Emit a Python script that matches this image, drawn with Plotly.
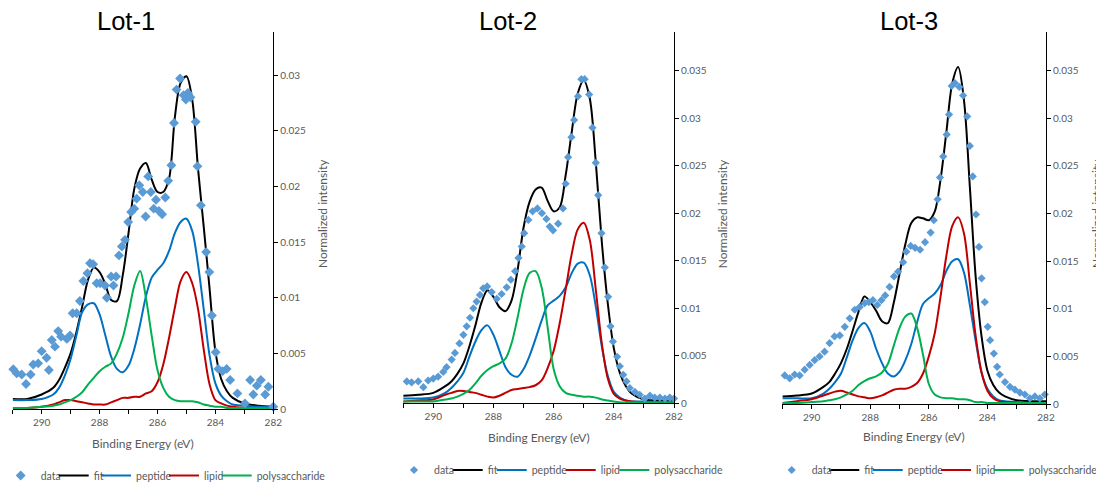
import plotly.graph_objects as go

# ---------------- data ----------------
lots = ["Lot-1", "Lot-2", "Lot-3"]
component_names = ["fit", "peptide", "lipid", "polysaccharide"]
component_colors = ["#000000", "#0070C0", "#C00000", "#00B050"]

energy_grid = [291.0, 290.5, 290.0, 289.6, 289.4, 289.2, 289.0, 288.8, 288.6, 288.4,
               288.2, 288.0, 287.8, 287.6, 287.4, 287.2, 287.0, 286.8, 286.6, 286.4,
               286.2, 286.0, 285.8, 285.6, 285.4, 285.2, 285.0, 284.8, 284.6, 284.4,
               284.2, 284.0, 283.8, 283.6, 283.4, 283.0, 282.5, 282.0]

# Lot-1
lot1_data_x = [290.98, 290.86, 290.69, 290.54, 290.38, 290.29, 290.12, 290.0, 289.83, 289.75,
               289.65, 289.54, 289.43, 289.33, 289.13, 289.02, 288.93, 288.79, 288.68, 288.56,
               288.42, 288.33, 288.22, 288.10, 287.98, 287.81, 287.75, 287.60, 287.52, 287.43,
               287.33, 287.23, 287.12, 287.01, 286.91, 286.80, 286.72, 286.63, 286.51, 286.41,
               286.32, 286.23, 286.13, 286.05, 285.95, 285.84, 285.73, 285.63, 285.52, 285.43,
               285.34, 285.22, 285.10, 285.02, 284.95, 284.86, 284.68, 284.62, 284.50, 284.32,
               284.21, 284.12, 283.99, 283.90, 283.75, 283.61, 283.49, 283.24, 282.98, 282.80,
               282.69, 282.57, 282.43, 282.28, 282.17, 282.0]
lot1_data_y = [0.00357, 0.0032, 0.0031, 0.00225, 0.0031, 0.0040, 0.0041, 0.0052, 0.0046, 0.0035,
               0.0062, 0.0056, 0.0070, 0.0065, 0.0063, 0.0066, 0.0086, 0.0086, 0.0097, 0.0115,
               0.0122, 0.0131, 0.0130, 0.0113, 0.0113, 0.0111, 0.0100, 0.0119, 0.0111, 0.0119,
               0.0138, 0.0146, 0.0152, 0.0168, 0.0177, 0.0180, 0.0189, 0.0201, 0.0195, 0.0173,
               0.0209, 0.0195, 0.0180, 0.0188, 0.0178, 0.0175, 0.0190, 0.0205, 0.0219, 0.0257,
               0.0287, 0.0297, 0.0282, 0.0278, 0.0284, 0.0280, 0.0258, 0.0218, 0.0183, 0.0141,
               0.0123, 0.0084, 0.0051, 0.0036, 0.0034, 0.0036, 0.0026, 0.0014, 0.0005, 0.0026,
               0.0013, 0.0021, 0.0026, 0.0013, 0.0020, 0.0002]
lot1_fit = [0.0009, 0.0009, 0.0013, 0.0019, 0.0026, 0.0037, 0.0050, 0.0069, 0.0092, 0.0116,
            0.0127, 0.0123, 0.0112, 0.0098, 0.0097, 0.0120, 0.0158, 0.0198, 0.0216, 0.0221,
            0.0206, 0.0195, 0.0195, 0.0207, 0.0262, 0.0293, 0.0299, 0.0278, 0.0216, 0.0163,
            0.0108, 0.0052, 0.0027, 0.0016, 0.0010, 0.0005, 0.0003, 0.0002]
lot1_peptide = [0.0008, 0.0008, 0.0009, 0.0013, 0.0019, 0.0030, 0.0045, 0.0066, 0.0087, 0.0094,
                0.0095, 0.0085, 0.0066, 0.0047, 0.0036, 0.0033, 0.0039, 0.0054, 0.0076, 0.0101,
                0.0118, 0.0125, 0.0131, 0.0142, 0.0158, 0.0168, 0.0171, 0.0160, 0.0130, 0.0089,
                0.0048, 0.0023, 0.0012, 0.0007, 0.0004, 0.0003, 0.0002, 0.0002]
lot1_lipid = [0.0001, 0.0001, 0.0002, 0.0004, 0.0006, 0.0008, 0.0008, 0.0007, 0.0006, 0.0005,
              0.0004, 0.0004, 0.0004, 0.0006, 0.0008, 0.0010, 0.0010, 0.0011, 0.0011, 0.0014,
              0.0016, 0.0024, 0.0040, 0.0064, 0.0091, 0.0115, 0.0123, 0.0113, 0.0090, 0.0053,
              0.0022, 0.0008, 0.0005, 0.0003, 0.0002, 0.0001, 0.0001, 0.0001]
lot1_poly = [0.0001, 0.0001, 0.0002, 0.0003, 0.0004, 0.0006, 0.0008, 0.0011, 0.0015, 0.0022,
             0.0028, 0.0034, 0.0038, 0.0041, 0.0050, 0.0064, 0.0086, 0.0111, 0.0124, 0.0100,
             0.0066, 0.0035, 0.0019, 0.0011, 0.0008, 0.0007, 0.0007, 0.0007, 0.0006, 0.0004,
             0.0003, 0.0002, 0.0002, 0.0001, 0.0001, 0.0001, 0.0001, 0.0001]

# Lot-2
lot2_data_x = [290.88, 290.72, 290.50, 290.33, 290.17, 290.0, 289.84, 289.67, 289.56, 289.39,
               289.28, 289.13, 289.0, 288.89, 288.78, 288.67, 288.56, 288.45, 288.34, 288.21,
               288.06, 287.89, 287.73, 287.56, 287.42, 287.28, 287.17, 287.06, 286.98, 286.84,
               286.70, 286.54, 286.39, 286.24, 286.13, 286.02, 285.85, 285.69, 285.60, 285.52,
               285.41, 285.32, 285.19, 285.08, 284.97, 284.82, 284.71, 284.60, 284.52, 284.41,
               284.30, 284.19, 284.11, 284.03, 283.89, 283.80, 283.69, 283.58, 283.47, 283.30,
               283.14, 282.97, 282.80, 282.64, 282.47, 282.30, 282.14, 282.0]
lot2_data_y = [0.0023, 0.0022, 0.0023, 0.0017, 0.0024, 0.0026, 0.0028, 0.0033, 0.0038, 0.0046,
               0.0053, 0.0063, 0.0072, 0.0081, 0.0090, 0.0100, 0.0107, 0.0114, 0.0121, 0.0123,
               0.0117, 0.0110, 0.0115, 0.0122, 0.0130, 0.0139, 0.0153, 0.0165, 0.0179, 0.0193,
               0.0202, 0.0205, 0.0200, 0.0194, 0.0186, 0.0182, 0.0189, 0.0205, 0.0231, 0.0259,
               0.0280, 0.0298, 0.0323, 0.0341, 0.0341, 0.0325, 0.0290, 0.0253, 0.0219, 0.0179,
               0.0143, 0.0112, 0.0081, 0.0065, 0.0049, 0.0039, 0.0030, 0.0023, 0.0016, 0.0012,
               0.0009, 0.0005, 0.0008, 0.0006, 0.0006, 0.0005, 0.0006, 0.0005]
lot2_fit = [0.0008, 0.0009, 0.0011, 0.0018, 0.0023, 0.0031, 0.0042, 0.0060, 0.0082, 0.0106,
            0.0119, 0.0112, 0.0101, 0.0097, 0.0108, 0.0140, 0.0185, 0.0212, 0.0225, 0.0227,
            0.0213, 0.0202, 0.0206, 0.0240, 0.0285, 0.0326, 0.0340, 0.0321, 0.0254, 0.0170,
            0.0105, 0.0058, 0.0032, 0.0018, 0.0010, 0.0004, 0.0003, 0.0002]
lot2_peptide = [0.0005, 0.0005, 0.0006, 0.0011, 0.0016, 0.0023, 0.0032, 0.0049, 0.0065, 0.0077,
                0.0082, 0.0072, 0.0055, 0.0038, 0.0030, 0.0028, 0.0036, 0.0050, 0.0068, 0.0087,
                0.0103, 0.0108, 0.0113, 0.0122, 0.0137, 0.0147, 0.0148, 0.0135, 0.0102, 0.0060,
                0.0029, 0.0012, 0.0006, 0.0003, 0.0002, 0.0002, 0.0001, 0.0001]
lot2_lipid = [0.0002, 0.0003, 0.0004, 0.0009, 0.0011, 0.0013, 0.0013, 0.0012, 0.0011, 0.0009,
              0.0007, 0.0006, 0.0008, 0.0011, 0.0014, 0.0015, 0.0016, 0.0017, 0.0019, 0.0024,
              0.0037, 0.0055, 0.0084, 0.0120, 0.0157, 0.0183, 0.0190, 0.0172, 0.0120, 0.0063,
              0.0026, 0.0010, 0.0005, 0.0003, 0.0002, 0.0001, 0.0001, 0.0001]
lot2_poly = [0.0002, 0.0002, 0.0002, 0.0004, 0.0005, 0.0007, 0.0010, 0.0014, 0.0021, 0.0029,
             0.0035, 0.0039, 0.0042, 0.0047, 0.0063, 0.0090, 0.0120, 0.0137, 0.0139, 0.0122,
             0.0080, 0.0036, 0.0018, 0.0011, 0.0009, 0.0008, 0.0007, 0.0007, 0.0006, 0.0004,
             0.0003, 0.0002, 0.0001, 0.0001, 0.0001, 0.0001, 0.0001, 0.0001]

# Lot-3
lot3_data_x = [290.92, 290.75, 290.58, 290.41, 290.24, 290.07, 289.90, 289.73, 289.56, 289.39,
               289.22, 289.04, 288.87, 288.70, 288.53, 288.36, 288.19, 288.05, 287.91, 287.76,
               287.62, 287.49, 287.34, 287.19, 287.05, 286.88, 286.77, 286.62, 286.47, 286.30,
               286.13, 285.94, 285.83, 285.70, 285.62, 285.51, 285.39, 285.31, 285.22, 285.11,
               284.96, 284.83, 284.69, 284.60, 284.50, 284.39, 284.29, 284.20, 284.09, 283.99,
               283.91, 283.78, 283.67, 283.58, 283.40, 283.23, 283.06, 282.89, 282.72, 282.55,
               282.38, 282.21, 282.04]
lot3_data_y = [0.0030, 0.0027, 0.0031, 0.0030, 0.0036, 0.0041, 0.0046, 0.0050, 0.0055, 0.0064,
               0.0071, 0.0072, 0.0081, 0.0090, 0.0099, 0.0102, 0.0106, 0.0107, 0.0109, 0.0104,
               0.0109, 0.0114, 0.0123, 0.0134, 0.0139, 0.0149, 0.0160, 0.0166, 0.0164, 0.0162,
               0.0170, 0.0180, 0.0193, 0.0215, 0.0238, 0.0260, 0.0283, 0.0304, 0.0334, 0.0337,
               0.0333, 0.0324, 0.0302, 0.0271, 0.0239, 0.0199, 0.0165, 0.0132, 0.0107, 0.0081,
               0.0067, 0.0053, 0.0039, 0.0031, 0.0023, 0.0018, 0.0015, 0.0012, 0.0010, 0.0006,
               0.0008, 0.0006, 0.0010]
lot3_fit = [0.0008, 0.0009, 0.0011, 0.0018, 0.0023, 0.0032, 0.0043, 0.0058, 0.0077, 0.0097,
            0.0113, 0.0107, 0.0098, 0.0087, 0.0085, 0.0106, 0.0137, 0.0168, 0.0190, 0.0196,
            0.0195, 0.0193, 0.0202, 0.0236, 0.0286, 0.0337, 0.0354, 0.0319, 0.0228, 0.0133,
            0.0071, 0.0035, 0.0020, 0.0012, 0.0008, 0.0004, 0.0003, 0.0003]
lot3_peptide = [0.0006, 0.0006, 0.0006, 0.0011, 0.0016, 0.0023, 0.0032, 0.0049, 0.0067, 0.0080,
                0.0085, 0.0076, 0.0058, 0.0043, 0.0032, 0.0029, 0.0034, 0.0046, 0.0063, 0.0086,
                0.0105, 0.0111, 0.0116, 0.0125, 0.0140, 0.0150, 0.0152, 0.0138, 0.0104, 0.0066,
                0.0033, 0.0016, 0.0008, 0.0004, 0.0003, 0.0002, 0.0001, 0.0001]
lot3_lipid = [0.0001, 0.0003, 0.0005, 0.0009, 0.0011, 0.0013, 0.0014, 0.0012, 0.0010, 0.0008,
              0.0007, 0.0006, 0.0007, 0.0009, 0.0012, 0.0015, 0.0016, 0.0016, 0.0018, 0.0022,
              0.0032, 0.0050, 0.0074, 0.0113, 0.0156, 0.0187, 0.0196, 0.0179, 0.0127, 0.0071,
              0.0033, 0.0014, 0.0006, 0.0003, 0.0002, 0.0001, 0.0001, 0.0001]
lot3_poly = [0.0001, 0.0001, 0.0002, 0.0003, 0.0004, 0.0005, 0.0007, 0.0010, 0.0014, 0.0020,
             0.0024, 0.0027, 0.0029, 0.0033, 0.0042, 0.0061, 0.0080, 0.0092, 0.0095, 0.0080,
             0.0052, 0.0021, 0.0010, 0.0007, 0.0006, 0.0006, 0.0005, 0.0005, 0.0004, 0.0002,
             0.0002, 0.0001, 0.0001, 0.0001, 0.0001, 0.0001, 0.0001, 0.0001]

x_tick_vals = [290, 288, 286, 284, 282]
x_tick_text = ["290", "288", "286", "284", "282"]
y_max = [0.0339, 0.0391, 0.0391]

# ---------------- layout geometry ----------------
# positions below are page pixels of the 1104 x 488 window; the page body adds an
# 8 px margin, so the figure itself is 8 px smaller on each side and shifted.
PAGE_W, PAGE_H = 1104, 488
OFF = 8
W, H = PAGE_W - OFF, PAGE_H - OFF


def fx(px):
    return (px - OFF) / W


def fy(py):
    return 1 - (py - OFF) / H


panels = [
    dict(x0=12.7, x1=273.3, y0=409.0, y1=31.7, title_x=125.8, xt=(143.0, 443.0), yt=322.0,
         msize=7.6, leg_y=475.5, leg_text=[40.7, 93.7, 136.0, 204.0, 256.7]),
    dict(x0=403.2, x1=674.0, y0=403.3, y1=31.7, title_x=508.3, xt=(538.7, 437.3), yt=722.3,
         msize=6.3, leg_y=470.0, leg_text=[434.0, 487.7, 531.7, 600.7, 654.3]),
    dict(x0=782.4, x1=1046.0, y0=404.0, y1=31.7, title_x=908.7, xt=(914.2, 436.7), yt=1096.0,
         msize=6.3, leg_y=470.0, leg_text=[811.7, 864.3, 907.7, 976.0, 1028.7]),
]

series = [
    (lot1_data_x, lot1_data_y, [lot1_fit, lot1_peptide, lot1_lipid, lot1_poly]),
    (lot2_data_x, lot2_data_y, [lot2_fit, lot2_peptide, lot2_lipid, lot2_poly]),
    (lot3_data_x, lot3_data_y, [lot3_fit, lot3_peptide, lot3_lipid, lot3_poly]),
]

TXT = "#595959"
FONT = "Lato"

fig = go.Figure()
layout = dict(
    width=W, height=H,
    margin=dict(l=0, r=0, t=0, b=0, pad=0, autoexpand=False),
    paper_bgcolor="white", plot_bgcolor="white",
    showlegend=True,
    annotations=[],
)

leg_counter = 0
for i, (p, (dx, dy, comps)) in enumerate(zip(panels, series)):
    sfx = "" if i == 0 else str(i + 1)
    xa, ya = "x" + sfx, "y" + sfx
    legend_ids = []
    for k in range(5):
        leg_counter += 1
        legend_ids.append("legend" if leg_counter == 1 else "legend%d" % leg_counter)

    # component curves
    for k, (name, col, vals) in enumerate(zip(component_names, component_colors, comps)):
        fig.add_trace(go.Scatter(
            x=energy_grid, y=vals, mode="lines", name=name,
            line=dict(color=col, width=2, shape="spline", smoothing=0.9),
            xaxis=xa, yaxis=ya, legend=legend_ids[k + 1], cliponaxis=False,
        ))
    # data markers
    fig.add_trace(go.Scatter(
        x=dx, y=dy, mode="markers", name="data",
        marker=dict(symbol="diamond", size=p["msize"], color="#5B9BD5", line=dict(width=0)),
        xaxis=xa, yaxis=ya, legend=legend_ids[0], cliponaxis=False,
    ))

    layout["xaxis" + sfx] = dict(
        domain=[fx(p["x0"]), fx(p["x1"])], anchor=ya, automargin=False,
        range=[291, 282], autorange=False,
        tickvals=x_tick_vals, ticktext=x_tick_text,
        ticks="outside", ticklen=4, tickwidth=1, tickcolor="#000000",
        minor=dict(dtick=1, tick0=282, ticks="outside", ticklen=4, tickwidth=1, tickcolor="#000000"),
        showline=True, linecolor="#000000", linewidth=1,
        showgrid=False, zeroline=False,
        tickfont=dict(family=FONT, size=10, color=TXT),
    )
    layout["yaxis" + sfx] = dict(
        domain=[fy(p["y0"]), fy(p["y1"])], anchor=xa, side="right", automargin=False,
        range=[0, y_max[i]], autorange=False,
        dtick=0.005, tick0=0,
        ticks="outside", ticklen=4, tickwidth=1, tickcolor="#000000",
        showline=True, linecolor="#000000", linewidth=1,
        showgrid=False, zeroline=False,
        tickfont=dict(family=FONT, size=10, color=TXT),
    )
    # legends (one per entry so each sits where the original places it)
    for k in range(5):
        layout[legend_ids[k]] = dict(
            x=fx(p["leg_text"][k] - 40), xanchor="left",
            y=fy(p["leg_y"]), yanchor="middle",
            orientation="h", bgcolor="rgba(0,0,0,0)", borderwidth=0,
            font=dict(family=FONT, size=10.5, color=TXT),
            itemwidth=30,
        )
    # titles
    layout["annotations"] += [
        dict(text=lots[i], x=fx(p["title_x"]), y=fy(21.0), xref="paper", yref="paper",
             showarrow=False, xanchor="center", yanchor="middle",
             font=dict(family="Liberation Sans", size=25.5, color="#000000")),
        dict(text="Binding Energy (eV)", x=fx(p["xt"][0]), y=fy(p["xt"][1]),
             xref="paper", yref="paper", showarrow=False, xanchor="center", yanchor="middle",
             font=dict(family=FONT, size=12, color=TXT)),
        dict(text="Normalized intensity", x=fx(p["yt"]), y=fy(214.0),
             xref="paper", yref="paper", showarrow=False, xanchor="center", yanchor="middle",
             textangle=-90, font=dict(family=FONT, size=12, color=TXT)),
    ]

fig.update_layout(**layout)
fig.write_html("out.html")
